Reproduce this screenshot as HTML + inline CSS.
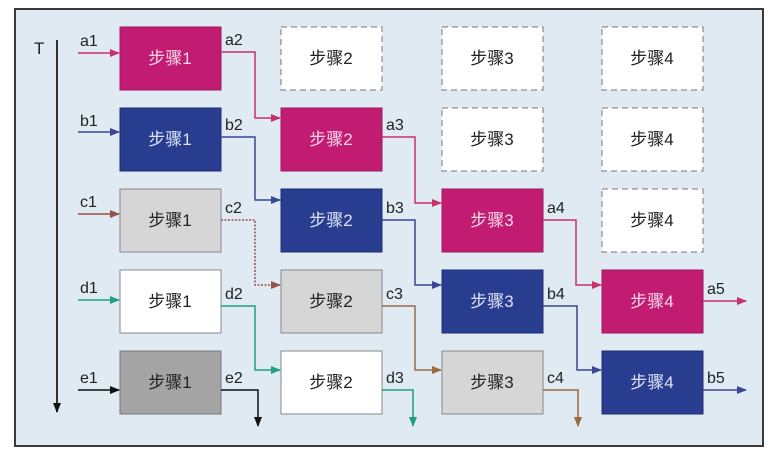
<!DOCTYPE html>
<html><head><meta charset="utf-8"><style>
html,body{margin:0;padding:0;background:#fff;}
svg{display:block;font-family:"Liberation Sans","Noto Sans CJK SC",sans-serif;}
</style></head><body>
<svg width="778" height="456" viewBox="0 0 778 456" xmlns="http://www.w3.org/2000/svg">
<defs>
<marker id="mA" markerWidth="10" markerHeight="8" refX="9" refY="4" orient="auto" markerUnits="userSpaceOnUse"><path d="M0,0 L10,4 L0,8 Z" fill="#c8306e"/></marker>
<marker id="mB" markerWidth="10" markerHeight="8" refX="9" refY="4" orient="auto" markerUnits="userSpaceOnUse"><path d="M0,0 L10,4 L0,8 Z" fill="#3a4696"/></marker>
<marker id="mC" markerWidth="10" markerHeight="8" refX="9" refY="4" orient="auto" markerUnits="userSpaceOnUse"><path d="M0,0 L10,4 L0,8 Z" fill="#9a5048"/></marker>
<marker id="mC2" markerWidth="10" markerHeight="8" refX="9" refY="4" orient="auto" markerUnits="userSpaceOnUse"><path d="M0,0 L10,4 L0,8 Z" fill="#9a6a40"/></marker>
<marker id="mD" markerWidth="10" markerHeight="8" refX="9" refY="4" orient="auto" markerUnits="userSpaceOnUse"><path d="M0,0 L10,4 L0,8 Z" fill="#20a080"/></marker>
<marker id="mE" markerWidth="10" markerHeight="8" refX="9" refY="4" orient="auto" markerUnits="userSpaceOnUse"><path d="M0,0 L10,4 L0,8 Z" fill="#111"/></marker>
</defs>
<rect x="15" y="9" width="748" height="437" fill="#dfeaf2" stroke="#3a3a3a" stroke-width="2"/>
<!-- T axis -->
<text x="34" y="54" font-size="17" fill="#222">T</text>
<line x1="57" y1="40" x2="57" y2="412" stroke="#333" stroke-width="2" marker-end="url(#mE)"/>

<g font-size="17" text-anchor="middle">
<!-- row0 -->
<rect x="120" y="27" width="101" height="63" fill="#c21c72" stroke="#a01860"/>
<text x="170" y="64" fill="#f4d8e8">步骤1</text>
<rect x="281" y="27" width="101" height="63" fill="#fff" stroke="#777" stroke-dasharray="6,4"/>
<text x="331" y="64" fill="#222">步骤2</text>
<rect x="442" y="27" width="101" height="63" fill="#fff" stroke="#777" stroke-dasharray="6,4"/>
<text x="492" y="64" fill="#222">步骤3</text>
<rect x="602" y="27" width="101" height="63" fill="#fff" stroke="#777" stroke-dasharray="6,4"/>
<text x="652" y="64" fill="#222">步骤4</text>
<!-- row1 -->
<rect x="120" y="108" width="101" height="63" fill="#283c90" stroke="#1e2e70"/>
<text x="170" y="145" fill="#dde4f6">步骤1</text>
<rect x="281" y="108" width="101" height="63" fill="#c21c72" stroke="#a01860"/>
<text x="331" y="145" fill="#f4d8e8">步骤2</text>
<rect x="442" y="108" width="101" height="63" fill="#fff" stroke="#777" stroke-dasharray="6,4"/>
<text x="492" y="145" fill="#222">步骤3</text>
<rect x="602" y="108" width="101" height="63" fill="#fff" stroke="#777" stroke-dasharray="6,4"/>
<text x="652" y="145" fill="#222">步骤4</text>
<!-- row2 -->
<rect x="120" y="189" width="101" height="63" fill="#d6d6d6" stroke="#888"/>
<text x="170" y="226" fill="#222">步骤1</text>
<rect x="281" y="189" width="101" height="63" fill="#283c90" stroke="#1e2e70"/>
<text x="331" y="226" fill="#dde4f6">步骤2</text>
<rect x="442" y="189" width="101" height="63" fill="#c21c72" stroke="#a01860"/>
<text x="492" y="226" fill="#f4d8e8">步骤3</text>
<rect x="602" y="189" width="101" height="63" fill="#fff" stroke="#777" stroke-dasharray="6,4"/>
<text x="652" y="226" fill="#222">步骤4</text>
<!-- row3 -->
<rect x="120" y="270" width="101" height="63" fill="#fff" stroke="#888"/>
<text x="170" y="307" fill="#222">步骤1</text>
<rect x="281" y="270" width="101" height="63" fill="#d6d6d6" stroke="#888"/>
<text x="331" y="307" fill="#222">步骤2</text>
<rect x="442" y="270" width="101" height="63" fill="#283c90" stroke="#1e2e70"/>
<text x="492" y="307" fill="#dde4f6">步骤3</text>
<rect x="602" y="270" width="101" height="63" fill="#c21c72" stroke="#a01860"/>
<text x="652" y="307" fill="#f4d8e8">步骤4</text>
<!-- row4 -->
<rect x="120" y="351" width="101" height="63" fill="#a4a4a4" stroke="#777"/>
<text x="170" y="388" fill="#222">步骤1</text>
<rect x="281" y="351" width="101" height="63" fill="#fff" stroke="#888"/>
<text x="331" y="388" fill="#222">步骤2</text>
<rect x="442" y="351" width="101" height="63" fill="#d6d6d6" stroke="#888"/>
<text x="492" y="388" fill="#222">步骤3</text>
<rect x="602" y="351" width="101" height="63" fill="#283c90" stroke="#1e2e70"/>
<text x="652" y="388" fill="#dde4f6">步骤4</text>
</g>

<g fill="none" stroke-width="1.5">
<!-- inputs -->
<line x1="78" y1="53" x2="119" y2="53" stroke="#c8306e" marker-end="url(#mA)"/>
<line x1="78" y1="132" x2="119" y2="132" stroke="#3a4696" marker-end="url(#mB)"/>
<line x1="78" y1="214" x2="119" y2="214" stroke="#9a5048" marker-end="url(#mC)"/>
<line x1="78" y1="300" x2="119" y2="300" stroke="#20a080" marker-end="url(#mD)"/>
<line x1="78" y1="390" x2="119" y2="390" stroke="#111" marker-end="url(#mE)"/>
<!-- a -->
<path d="M221,52 H255 V118 H280" stroke="#c8306e" marker-end="url(#mA)"/>
<path d="M382,137 H415 V203 H441" stroke="#c8306e" marker-end="url(#mA)"/>
<path d="M543,220 H576 V285 H601" stroke="#c8306e" marker-end="url(#mA)"/>
<path d="M703,301 H746" stroke="#c8306e" marker-end="url(#mA)"/>
<!-- b -->
<path d="M221,137 H255 V200 H280" stroke="#3a4696" marker-end="url(#mB)"/>
<path d="M382,220 H415 V285 H441" stroke="#3a4696" marker-end="url(#mB)"/>
<path d="M543,306 H577 V370 H601" stroke="#3a4696" marker-end="url(#mB)"/>
<path d="M703,390 H746" stroke="#3a4696" marker-end="url(#mB)"/>
<!-- c -->
<path d="M221,220 H255 V285 H280" stroke="#9a5048" stroke-dasharray="2,1.5" marker-end="url(#mC)"/>
<path d="M382,306 H415 V370 H441" stroke="#9a6a50" marker-end="url(#mC2)"/>
<path d="M543,390 H578 V426" stroke="#9a6a40" marker-end="url(#mC2)"/>
<!-- d -->
<path d="M221,306 H255 V370 H280" stroke="#20a080" marker-end="url(#mD)"/>
<path d="M382,390 H413 V426" stroke="#20a080" marker-end="url(#mD)"/>
<!-- e -->
<path d="M221,390 H258 V426" stroke="#111" marker-end="url(#mE)"/>
</g>

<g font-size="16" fill="#222">
<text x="80" y="46">a1</text>
<text x="80" y="126">b1</text>
<text x="80" y="207">c1</text>
<text x="80" y="293">d1</text>
<text x="80" y="383">e1</text>
<text x="225" y="45">a2</text>
<text x="225" y="130">b2</text>
<text x="225" y="213">c2</text>
<text x="225" y="299">d2</text>
<text x="225" y="383">e2</text>
<text x="386" y="130">a3</text>
<text x="386" y="213">b3</text>
<text x="386" y="299">c3</text>
<text x="386" y="383">d3</text>
<text x="547" y="213">a4</text>
<text x="547" y="299">b4</text>
<text x="547" y="383">c4</text>
<text x="707" y="294">a5</text>
<text x="707" y="383">b5</text>
</g>
</svg>
</body></html>
